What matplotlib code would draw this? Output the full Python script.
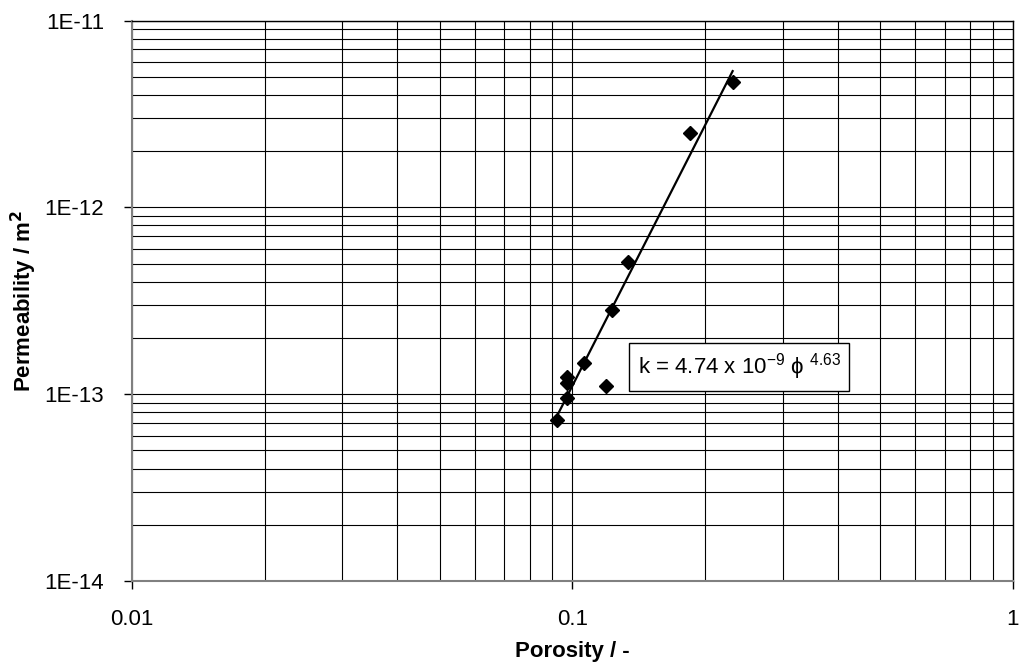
import numpy as np
import matplotlib.pyplot as plt
from matplotlib.ticker import FixedLocator, FixedFormatter, LogLocator, NullFormatter

plt.rcParams['font.family'] = ['Liberation Sans', 'DejaVu Sans']
plt.rcParams['mathtext.fontset'] = 'custom'
plt.rcParams['mathtext.rm'] = 'Liberation Sans'
plt.rcParams['mathtext.default'] = 'regular'

# measured samples
porosity = [0.0922, 0.0973, 0.0973, 0.0973, 0.106, 0.119, 0.123, 0.134, 0.185, 0.231]
permeability = [7.3e-14, 9.5e-14, 1.15e-13, 1.24e-13, 1.47e-13, 1.1e-13,
                2.83e-13, 5.07e-13, 2.49e-12, 4.7e-12]

# power law fit k = a * phi^b
fit_a = 4.74e-9
fit_b = 4.63

x_ticks = [0.01, 0.1, 1]
x_labels = ['0.01', '0.1', '1']
y_ticks = [1e-14, 1e-13, 1e-12, 1e-11]
y_labels = ['1E-14', '1E-13', '1E-12', '1E-11']

fig = plt.figure(figsize=(10.19, 6.71), dpi=100)
ax = fig.add_axes([0.1295, 0.1341, 0.8646, 0.8353])

ax.set_xscale('log')
ax.set_yscale('log')
ax.set_xlim(0.01, 1)
ax.set_ylim(1e-14, 1e-11)

ax.xaxis.set_major_locator(FixedLocator(x_ticks))
ax.xaxis.set_major_formatter(FixedFormatter(x_labels))
ax.yaxis.set_major_locator(FixedLocator(y_ticks))
ax.yaxis.set_major_formatter(FixedFormatter(y_labels))
ax.xaxis.set_minor_locator(LogLocator(base=10, subs=np.arange(2, 10)))
ax.yaxis.set_minor_locator(LogLocator(base=10, subs=np.arange(2, 10)))
ax.xaxis.set_minor_formatter(NullFormatter())
ax.yaxis.set_minor_formatter(NullFormatter())

ax.grid(True, which='both', color='black', linewidth=0.8)
ax.set_axisbelow(True)

ax.tick_params(which='major', direction='out', length=6, width=1, labelsize=16, pad=14)
ax.tick_params(which='minor', length=0)
for side in ['left', 'bottom']:
    ax.spines[side].set_color('#808080')
    ax.spines[side].set_linewidth(1.5)
for side in ['top', 'right']:
    ax.spines[side].set_color('black')
    ax.spines[side].set_linewidth(1.0)

# trendline across the data range
phi_fit = np.array([min(porosity), max(porosity)])
ax.plot(phi_fit, fit_a * phi_fit ** fit_b, color='black', linewidth=1.6, zorder=3)

ax.plot(porosity, permeability, linestyle='none', marker='D', markersize=6.8,
        color='black', zorder=4)

ax.text(0.1405, 1.4e-13, r'k = 4.74 x 10$^{-9}$ ϕ $^{4.63}$', fontsize=16,
        va='center', ha='left', zorder=5,
        bbox=dict(boxstyle='square,pad=0.38', facecolor='white', edgecolor='black', linewidth=1))

ax.set_xlabel('Porosity / -', fontsize=16, fontweight='bold', labelpad=8)
ax.set_ylabel(r'Permeability / m$^{\mathbf{2}}$', fontsize=16, fontweight='bold', labelpad=4)

fig.savefig('out.png', dpi=100)
